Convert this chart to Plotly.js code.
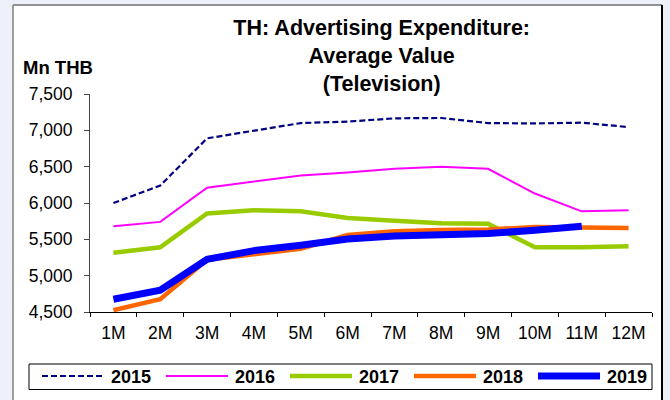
<!DOCTYPE html>
<html>
<head>
<meta charset="utf-8">
<script src="https://cdn.plot.ly/plotly-3.0.1.min.js"></script>
<style>html,body{margin:0;padding:0;background:#EEF0F9;}</style>
</head>
<body>
<div id="chart" style="width:670px;height:400px;"></div>
<script>
// ---- data ----
const months = ['1M','2M','3M','4M','5M','6M','7M','8M','9M','10M','11M','12M'];
const seriesNames = ['2015','2016','2017','2018','2019'];
const y2015 = [6000, 6240, 6890, 7000, 7100, 7120, 7165, 7170, 7100, 7095, 7105, 7045];
const y2016 = [5680, 5740, 6210, 6300, 6380, 6420, 6470, 6500, 6470, 6130, 5885, 5900];
const y2017 = [5315, 5390, 5855, 5900, 5885, 5795, 5755, 5720, 5715, 5390, 5390, 5405];
const y2018 = [4525, 4675, 5220, 5295, 5370, 5560, 5610, 5630, 5635, 5670, 5670, 5655];
const y2019 = [4675, 4800, 5225, 5345, 5420, 5505, 5545, 5565, 5580, 5625, 5680];

// ---- styles ----
const FONT = 'Liberation Sans, Arial, Helvetica, sans-serif';
const styles = [
  {color:'#000080', width:2.2, dash:'6px,3px'},
  {color:'#FF00FF', width:2, dash:'solid'},
  {color:'#99CC00', width:4.5, dash:'solid'},
  {color:'#FF6600', width:4.5, dash:'solid'},
  {color:'#0000FF', width:7, dash:'solid'}
];
const values = [y2015, y2016, y2017, y2018, y2019];

const traces = values.map((v, i) => ({
  type: 'scatter',
  mode: 'lines',
  name: seriesNames[i],
  x: months.slice(0, v.length),
  y: v,
  line: {color: styles[i].color, width: styles[i].width, dash: styles[i].dash},
  hoverinfo: 'x+y+name'
}));

// ---- geometry helpers (pixel -> paper) ----
const W = 670, H = 400;
const M = {l: 90, r: 18, t: 94, b: 88};
const PW = W - M.l - M.r, PH = H - M.t - M.b;
const px = x => (x - M.l) / PW;
const py = y => (H - M.b - y) / PH;

const shapes = [];
const annotations = [];

// outer white frame
shapes.push({type:'rect', xref:'paper', yref:'paper', layer:'below',
  x0: px(13), x1: px(662), y0: py(410), y1: py(5),
  fillcolor:'#FFFFFF', line:{width:0}});
shapes.push({type:'line', xref:'paper', yref:'paper', layer:'below',
  x0: px(13), x1: px(13), y0: py(410), y1: py(5), line:{color:'#808080', width:1.5}});
shapes.push({type:'line', xref:'paper', yref:'paper', layer:'below',
  x0: px(13), x1: px(662), y0: py(5), y1: py(5), line:{color:'#909090', width:2}});
shapes.push({type:'line', xref:'paper', yref:'paper', layer:'below',
  x0: px(662), x1: px(662), y0: py(410), y1: py(5), line:{color:'#000000', width:2}});

// legend box
shapes.push({type:'rect', xref:'paper', yref:'paper',
  x0: px(29), x1: px(652), y0: py(389.5), y1: py(364),
  line:{color:'#000000', width:1}, fillcolor:'rgba(0,0,0,0)'});
seriesNames.forEach((nm, i) => {
  const x0 = 42 + 124 * i;
  shapes.push({type:'line', xref:'paper', yref:'paper',
    x0: px(x0), x1: px(x0 + 62), y0: py(376), y1: py(376),
    line:{color: styles[i].color, width: styles[i].width, dash: styles[i].dash}});
  annotations.push({xref:'paper', yref:'paper', x: px(x0 + 67), y: py(376.5),
    xanchor:'left', yanchor:'middle', showarrow:false, text: nm,
    font:{family: FONT, size: 18, color:'#000000', weight:'bold'}});
});

// y-axis unit label
annotations.push({xref:'paper', yref:'paper', x: px(57.5), y: py(67),
  xanchor:'center', yanchor:'middle', showarrow:false, text:'Mn THB',
  font:{family: FONT, size: 18.5, color:'#000000', weight:'bold'}});

const layout = {
  width: W, height: H, autosize: false,
  margin: M,
  paper_bgcolor: '#EEF0F9',
  plot_bgcolor: 'rgba(0,0,0,0)',
  showlegend: false,
  font: {family: FONT, color: '#000000'},
  title: {
    text: 'TH: Advertising Expenditure:<br>Average Value<br>(Television)',
    font: {family: FONT, size: 21.5, color: '#000000', weight: 'bold'},
    xref: 'container', yref: 'container',
    x: 381.7 / W, xanchor: 'center',
    y: 1 - 35 / H, yanchor: 'top'
  },
  xaxis: {
    type: 'category',
    range: [-0.5, 11.5],
    showline: true, linecolor: '#000000', linewidth: 1,
    ticks: 'outside', ticklen: 4, tickcolor: '#000000', tickwidth: 1,
    tickson: 'boundaries',
    ticklabelstandoff: 5,
    showgrid: false, zeroline: false,
    tickfont: {family: FONT, size: 17.5, color: '#000000'}
  },
  yaxis: {
    range: [4500, 7500],
    dtick: 500, tick0: 4500,
    tickformat: ',d',
    showline: true, linecolor: '#444444', linewidth: 1,
    ticks: 'outside', ticklen: 5, tickcolor: '#444444', tickwidth: 1,
    ticklabelstandoff: 8,
    showgrid: false, zeroline: false,
    tickfont: {family: FONT, size: 17.5, color: '#000000'}
  },
  shapes: shapes,
  annotations: annotations
};

Plotly.newPlot('chart', traces, layout, {displayModeBar: false, staticPlot: true});
</script>
</body>
</html>
